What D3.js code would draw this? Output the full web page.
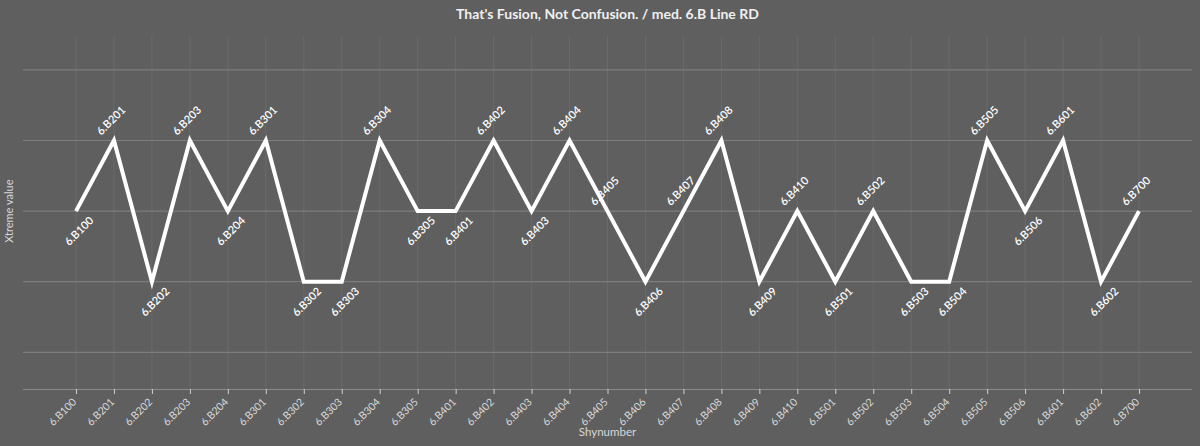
<!DOCTYPE html>
<html>
<head>
<meta charset="utf-8">
<script src="https://cdn.jsdelivr.net/npm/d3@7"></script>
<style>
  body { margin: 0; background: #5f5f5f; }
  svg { display: block; }
  text { font-family: Lato, "Open Sans", sans-serif; }
</style>
</head>
<body>
<svg id="chart" width="1200" height="446"></svg>
<script>
// categories along the x axis
var shynumbers = ['6.B100', '6.B201', '6.B202', '6.B203', '6.B204', '6.B301', '6.B302', '6.B303',
  '6.B304', '6.B305', '6.B401', '6.B402', '6.B403', '6.B404', '6.B405', '6.B406', '6.B407',
  '6.B408', '6.B409', '6.B410', '6.B501', '6.B502', '6.B503', '6.B504', '6.B505', '6.B506',
  '6.B601', '6.B602', '6.B700'];

// xtreme value per shynumber
var xtremeValues = [2, 3, 1, 3, 2, 3, 1, 1, 3, 2, 2, 3, 2, 3, 2, 1, 2, 3, 1, 2, 1, 2, 1, 1, 3, 2, 3, 1, 2];

// horizontal grid values
var yGrid = [0, 1, 2, 3, 4];

var width = 1200, height = 446;
var margin = { top: 36, right: 8, bottom: 57, left: 23 };

var svg = d3.select('#chart');

var x = d3.scalePoint()
  .domain(shynumbers)
  .range([76, 1139]);

var y = d3.scaleLinear()
  .domain([-0.52, 4.48])
  .range([height - margin.bottom, margin.top]);

var plotRight = width - margin.right;

// vertical grid (faint)
svg.append('g')
  .selectAll('line')
  .data(shynumbers)
  .enter().append('line')
  .attr('x1', function(d) { return x(d); })
  .attr('x2', function(d) { return x(d); })
  .attr('y1', margin.top)
  .attr('y2', height - margin.bottom)
  .attr('stroke', '#6a6a6a')
  .attr('stroke-width', 1);

// horizontal grid
svg.append('g')
  .selectAll('line')
  .data(yGrid)
  .enter().append('line')
  .attr('x1', margin.left)
  .attr('x2', plotRight)
  .attr('y1', function(d) { return y(d); })
  .attr('y2', function(d) { return y(d); })
  .attr('stroke', '#7d7d7d')
  .attr('stroke-width', 1.2);

// x axis
var xAxis = svg.append('g')
  .attr('transform', 'translate(0,' + (height - margin.bottom) + ')')
  .call(d3.axisBottom(x).tickSize(5).tickSizeOuter(0));

xAxis.select('.domain')
  .attr('d', 'M' + margin.left + ',0.5H' + plotRight)
  .attr('stroke', '#8a8a8a');
xAxis.selectAll('.tick line').attr('stroke', '#cfcfcf');
xAxis.selectAll('.tick text')
  .attr('fill', '#d8d8d8')
  .attr('font-size', 10.5)
  .attr('text-anchor', 'end')
  .attr('x', 0)
  .attr('y', 0)
  .attr('dy', '0.35em')
  .attr('transform', 'translate(-2,11) rotate(-45)');

// line
var line = d3.line()
  .x(function(d, i) { return x(shynumbers[i]); })
  .y(function(d) { return y(d); });

svg.append('path')
  .datum(xtremeValues)
  .attr('d', line)
  .attr('fill', 'none')
  .attr('stroke', '#ffffff')
  .attr('stroke-width', 4)
  .attr('stroke-linejoin', 'miter');

// put the label above if the point is not lower than its neighbours
function isAbove(i) {
  var v = xtremeValues[i], n = [];
  if (i > 0) n.push(xtremeValues[i - 1]);
  if (i < xtremeValues.length - 1) n.push(xtremeValues[i + 1]);
  return v >= d3.mean(n);
}

svg.append('g')
  .selectAll('text')
  .data(xtremeValues)
  .enter().append('text')
  .attr('transform', function(d, i) {
    var cx = x(shynumbers[i]) + (isAbove(i) ? -3 : 3);
    var cy = y(d) + (isAbove(i) ? -20 : 20);
    return 'translate(' + cx + ',' + cy + ') rotate(-45)';
  })
  .attr('text-anchor', 'middle')
  .attr('dy', '0.35em')
  .attr('fill', '#ffffff')
  .attr('font-size', 11)
  .attr('font-weight', 600)
  .text(function(d, i) { return shynumbers[i]; });

// title
svg.append('text')
  .attr('x', (margin.left + plotRight) / 2)
  .attr('y', 19)
  .attr('text-anchor', 'middle')
  .attr('fill', '#f0f0f0')
  .attr('font-size', 14)
  .attr('font-weight', 'bold')
  .text("That's Fusion, Not Confusion. / med. 6.B Line RD");

// axis titles
svg.append('text')
  .attr('x', (margin.left + plotRight) / 2)
  .attr('y', 436)
  .attr('text-anchor', 'middle')
  .attr('fill', '#d8d8d8')
  .attr('font-size', 11.5)
  .text('Shynumber');

svg.append('text')
  .attr('transform', 'translate(13,' + y(2) + ') rotate(-90)')
  .attr('text-anchor', 'middle')
  .attr('fill', '#d8d8d8')
  .attr('font-size', 11)
  .text('Xtreme value');
</script>
</body>
</html>
